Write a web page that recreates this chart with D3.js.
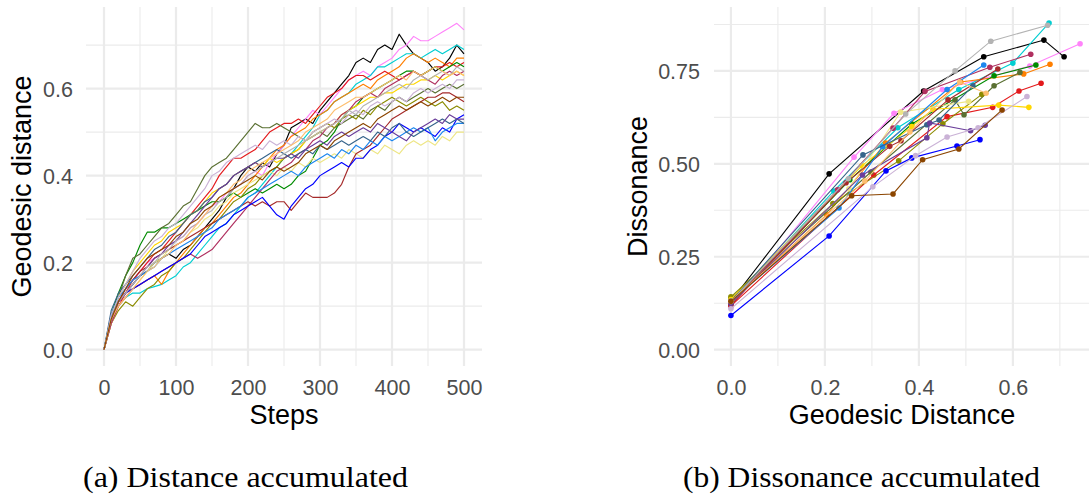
<!DOCTYPE html>
<html>
<head>
<meta charset="utf-8">
<script src="https://cdn.jsdelivr.net/npm/d3@7"></script>
<style>
  html, body { margin: 0; padding: 0; background: #ffffff; }
  svg { display: block; }
</style>
</head>
<body>
<svg id="fig" width="1092" height="497"></svg>
<script>
// ---------- shared series colours (one per walk) ----------
const seriesColors = [
  "#000000", "#FF83FA", "#00CED1", "#FF7F00", "#E31A1C",
  "#008B00", "#5A7032", "#8B8B00", "#FFD700", "#EEE685",
  "#A52A2A", "#B03060", "#0000FF", "#1C86EE", "#36648B",
  "#6A3D9A", "#CAB2D6", "#B3B3B3", "#FDBF6F", "#8B4500"
];

// ---------- panel (a): geodesic distance vs. steps ----------
const steps = [0, 10, 20, 30, 40, 50, 60, 70, 80, 90, 100, 110, 120, 130, 140, 150,
  160, 170, 180, 190, 200, 210, 220, 230, 240, 250, 260, 270, 280, 290, 300,
  310, 320, 330, 340, 350, 360, 370, 380, 390, 400, 410, 420, 430, 440, 450,
  460, 470, 480, 490, 500];

const distBlack = [0, .08, .11, .13, .15, .17, .18, .20, .21, .22, .21, .23, .24, .26, .28, .30,
  .32, .35, .37, .40, .42, .41, .43, .42, .45, .47, .51, .52, .53, .52, .55,
  .57, .59, .61, .63, .66, .67, .66, .69, .70, .69, .725, .70, .68, .67, .66,
  .64, .65, .67, .70, .68];
const distOrchid = [0, .07, .11, .14, .16, .18, .20, .21, .22, .24, .25, .26, .28, .29, .31, .33,
  .34, .36, .37, .38, .40, .41, .40, .43, .45, .47, .49, .51, .53, .55, .54,
  .56, .58, .60, .62, .63, .64, .63, .65, .66, .67, .69, .70, .72, .71, .71,
  .72, .73, .74, .75, .735];
const distCyan = [0, .07, .10, .12, .13, .13, .14, .145, .15, .16, .17, .19, .20, .22, .24, .26,
  .28, .29, .31, .33, .35, .36, .38, .40, .42, .44, .45, .47, .49, .51, .54,
  .55, .57, .58, .59, .61, .62, .63, .65, .65, .66, .67, .68, .68, .67, .68,
  .69, .68, .69, .70, .69];
const distOrange = [0, .07, .11, .13, .14, .15, .16, .17, .15, .18, .20, .22, .24, .26, .28, .29,
  .31, .33, .35, .36, .38, .40, .42, .44, .46, .47, .49, .50, .51, .53, .54,
  .55, .57, .58, .59, .60, .61, .60, .62, .63, .64, .65, .67, .68, .67, .66,
  .67, .66, .65, .67, .67];
const distRed = [0, .06, .10, .13, .16, .18, .20, .22, .23, .25, .27, .29, .31, .33, .35, .37,
  .40, .42, .44, .44, .45, .46, .48, .50, .51, .52, .52, .53, .52, .54, .56,
  .58, .59, .60, .62, .63, .63, .62, .63, .64, .63, .62, .63, .64, .63, .64,
  .65, .65, .66, .65, .66];
const distGreen = [0, .08, .13, .17, .20, .24, .27, .27, .28, .28, .29, .30, .31, .32, .33, .34,
  .34, .35, .36, .35, .36, .37, .36, .37, .38, .37, .38, .40, .41, .44, .47,
  .48, .50, .53, .55, .56, .58, .59, .60, .61, .62, .63, .64, .64, .63, .64,
  .65, .64, .65, .66, .65];
const distOliveDrab = [0, .07, .12, .17, .21, .22, .24, .26, .28, .29, .31, .33, .34, .37, .40, .42,
  .43, .44, .46, .48, .50, .52, .51, .51, .52, .51, .50, .49, .48, .49, .50,
  .49, .51, .52, .53, .54, .53, .55, .56, .55, .57, .58, .57, .58, .59, .60,
  .59, .60, .61, .60, .61];
const distOlive = [0, .06, .09, .11, .10, .12, .14, .15, .17, .18, .20, .21, .23, .25, .27, .29,
  .30, .32, .34, .35, .37, .38, .40, .41, .42, .44, .45, .46, .48, .50, .51,
  .52, .51, .53, .54, .53, .55, .54, .56, .57, .58, .57, .56, .57, .58, .57,
  .56, .57, .55, .56, .55];
const distGold = [0, .07, .12, .15, .18, .20, .22, .24, .25, .27, .28, .29, .31, .32, .34, .36,
  .37, .38, .40, .41, .42, .43, .42, .44, .43, .44, .45, .46, .48, .49, .50,
  .51, .52, .54, .55, .56, .57, .58, .58, .59, .59, .60, .61, .61, .62, .62,
  .63, .62, .63, .64, .63];
const distKhaki = [0, .06, .10, .12, .14, .16, .18, .20, .21, .23, .24, .25, .27, .28, .30, .31,
  .33, .34, .36, .37, .38, .39, .40, .41, .40, .42, .41, .43, .42, .44, .43,
  .44, .45, .44, .46, .45, .44, .46, .45, .47, .46, .45, .47, .48, .47, .48,
  .47, .49, .48, .50, .50];
const distBrown = [0, .07, .11, .14, .16, .18, .19, .21, .22, .23, .24, .25, .26, .27, .28, .29,
  .30, .31, .32, .33, .34, .33, .34, .33, .34, .34, .32, .34, .36, .35, .35,
  .35, .36, .38, .42, .45, .46, .47, .49, .51, .53, .54, .55, .56, .57, .58,
  .58, .59, .59, .58, .57];
const distMaroon = [0, .06, .10, .12, .14, .15, .16, .17, .18, .19, .20, .21, .22, .21, .22, .23,
  .25, .27, .29, .31, .33, .35, .37, .39, .41, .42, .43, .45, .46, .48, .49,
  .51, .52, .54, .55, .57, .58, .59, .58, .60, .61, .62, .63, .64, .63, .62,
  .61, .63, .64, .63, .64];
const distBlue = [0, .07, .11, .13, .14, .15, .16, .17, .18, .19, .20, .21, .22, .24, .26, .27,
  .28, .29, .31, .32, .33, .34, .35, .33, .31, .30, .33, .35, .37, .38, .40,
  .41, .42, .43, .42, .44, .44, .46, .47, .49, .50, .52, .51, .50, .51, .50,
  .49, .51, .50, .53, .54];
const distDodger = [0, .08, .12, .14, .16, .17, .18, .19, .21, .22, .23, .24, .25, .26, .27, .28,
  .30, .31, .32, .33, .35, .36, .37, .38, .39, .40, .41, .40, .42, .43, .44,
  .45, .44, .46, .45, .47, .46, .48, .47, .49, .48, .49, .50, .51, .50, .51,
  .48, .50, .51, .52, .52];
const distSteel = [0, .09, .13, .15, .17, .19, .21, .23, .24, .26, .27, .29, .31, .32, .34, .35,
  .37, .38, .40, .41, .42, .43, .44, .45, .46, .45, .44, .45, .46, .45, .47,
  .46, .47, .48, .47, .48, .49, .48, .50, .49, .51, .52, .50, .49, .50, .51,
  .52, .53, .52, .53, .52];
const distPurple = [0, .07, .11, .13, .15, .17, .19, .21, .22, .24, .25, .27, .29, .31, .33, .35,
  .37, .38, .40, .41, .42, .43, .42, .43, .44, .44, .45, .44, .46, .47, .48,
  .47, .49, .50, .49, .50, .51, .50, .52, .51, .50, .49, .48, .50, .51, .52,
  .53, .52, .54, .53, .53];
const distLavender = [0, .08, .12, .15, .18, .21, .23, .25, .26, .28, .29, .31, .33, .35, .37, .40,
  .41, .43, .44, .45, .46, .47, .46, .48, .47, .48, .47, .49, .48, .50, .51,
  .52, .53, .52, .54, .55, .54, .56, .57, .56, .57, .58, .57, .59, .60, .59,
  .60, .61, .60, .62, .62];
const distGray = [0, .07, .11, .13, .15, .17, .19, .20, .22, .23, .25, .26, .28, .29, .31, .32,
  .34, .35, .37, .38, .40, .41, .42, .43, .44, .45, .46, .47, .48, .49, .50,
  .51, .52, .53, .55, .54, .56, .57, .58, .59, .60, .61, .60, .62, .63, .62,
  .63, .64, .63, .65, .64];
const distSandy = [0, .07, .10, .12, .14, .16, .18, .19, .21, .22, .24, .25, .27, .29, .31, .33,
  .35, .36, .38, .39, .41, .42, .43, .44, .45, .46, .47, .48, .50, .51, .52,
  .53, .55, .56, .57, .58, .58, .59, .60, .61, .62, .63, .62, .64, .63, .64,
  .65, .64, .63, .64, .63];
const distSaddle = [0, .07, .11, .14, .17, .19, .21, .22, .23, .24, .26, .27, .29, .30, .32, .33,
  .35, .36, .37, .38, .39, .40, .39, .41, .42, .41, .42, .43, .45, .46, .47,
  .46, .48, .49, .50, .51, .52, .51, .53, .54, .55, .56, .55, .56, .57, .56,
  .57, .58, .57, .58, .58];

const distanceSeries = [
  distBlack, distOrchid, distCyan, distOrange, distRed,
  distGreen, distOliveDrab, distOlive, distGold, distKhaki,
  distBrown, distMaroon, distBlue, distDodger, distSteel,
  distPurple, distLavender, distGray, distSandy, distSaddle
];

// ---------- panel (b): dissonance vs. geodesic distance, [distance, dissonance] ----------
const dissBlack = [[0, .13], [.209, .473], [.41, .696], [.538, .788], [.666, .833], [.709, .788]];
const dissOrchid = [[0, .115], [.262, .518], [.347, .636], [.45, .70], [.636, .763], [.743, .823]];
const dissCyan = [[0, .125], [.219, .427], [.355, .597], [.485, .70], [.60, .771], [.677, .879]];
const dissOrange = [[0, .13], [.204, .363], [.329, .556], [.489, .72], [.623, .742], [.679, .768]];
const dissRed = [[0, .118], [.304, .47], [.46, .627], [.557, .652], [.613, .696], [.66, .717]];
const dissGreen = [[0, .125], [.253, .457], [.385, .607], [.56, .737], [.649, .766]];
const dissOliveDrab = [[0, .138], [.298, .478], [.477, .672], [.496, .632], [.56, .71], [.615, .746]];
const dissOlive = [[0, .142], [.217, .393], [.357, .508], [.451, .608], [.534, .687]];
const dissGold = [[0, .135], [.279, .495], [.385, .60], [.43, .647], [.57, .658], [.634, .652]];
const dissKhaki = [[0, .13], [.251, .433], [.361, .639], [.506, .668]];
const dissBrown = [[0, .12], [.245, .449], [.338, .547], [.362, .562], [.462, .672], [.568, .755]];
const dissMaroon = [[0, .125], [.227, .43], [.345, .596], [.413, .695], [.551, .76], [.638, .795]];
const dissBlue = [[0, .092], [.209, .306], [.330, .481], [.385, .516], [.481, .548], [.530, .565]];
const dissDodger = [[0, .13], [.230, .381], [.323, .546], [.46, .70], [.538, .766]];
const dissSteel = [[0, .13], [.281, .524], [.417, .605], [.443, .618], [.515, .71]];
const dissPurple = [[0, .125], [.28, .47], [.417, .57], [.423, .61], [.51, .589], [.541, .604]];
const dissLavender = [[0, .11], [.302, .438], [.393, .522], [.46, .572], [.526, .597], [.63, .681]];
const dissGray = [[0, .13], [.25, .46], [.372, .634], [.477, .75], [.553, .83], [.674, .873]];
const dissSandy = [[0, .13], [.285, .454], [.381, .586], [.487, .72], [.543, .69]];
const dissSaddle = [[0, .13], [.257, .414], [.345, .419], [.408, .511], [.485, .540], [.577, .645]];

const dissonanceSeries = [
  dissBlack, dissOrchid, dissCyan, dissOrange, dissRed,
  dissGreen, dissOliveDrab, dissOlive, dissGold, dissKhaki,
  dissBrown, dissMaroon, dissBlue, dissDodger, dissSteel,
  dissPurple, dissLavender, dissGray, dissSandy, dissSaddle
];

// ---------- tick labels ----------
const stepTicks = [0, 100, 200, 300, 400, 500];
const distanceTicks = [0, 0.2, 0.4, 0.6];
const geoTicks = [0, 0.2, 0.4, 0.6];
const dissTicks = [0, 0.25, 0.5, 0.75];

// ---------- drawing ----------
const svg = d3.select("#fig");
const GRID = "#EBEBEB";
const TICK_FONT = "'Liberation Sans', Arial, Helvetica, sans-serif";

function midpoints(ticks, step) {
  const out = ticks.map(t => t + step / 2);
  return out;
}

function drawGrid(g, x, y, xMajor, xMinor, yMajor, yMinor) {
  const [x0, x1] = x.range();
  const [y0, y1] = y.range();
  g.append("g").selectAll("line").data(yMinor).join("line")
    .attr("x1", x0).attr("x2", x1)
    .attr("y1", d => y(d)).attr("y2", d => y(d))
    .attr("stroke", GRID).attr("stroke-width", 1.1);
  g.append("g").selectAll("line").data(xMinor).join("line")
    .attr("y1", y0).attr("y2", y1)
    .attr("x1", d => x(d)).attr("x2", d => x(d))
    .attr("stroke", GRID).attr("stroke-width", 1.1);
  g.append("g").selectAll("line").data(yMajor).join("line")
    .attr("x1", x0).attr("x2", x1)
    .attr("y1", d => y(d)).attr("y2", d => y(d))
    .attr("stroke", GRID).attr("stroke-width", 2.2);
  g.append("g").selectAll("line").data(xMajor).join("line")
    .attr("y1", y0).attr("y2", y1)
    .attr("x1", d => x(d)).attr("x2", d => x(d))
    .attr("stroke", GRID).attr("stroke-width", 2.2);
}

function drawAxes(x, y, xTicks, yTicks, xFmt, yFmt, yLabelX) {
  const xAxis = d3.axisBottom(x).tickValues(xTicks).tickFormat(xFmt).tickSize(0).tickPadding(0);
  const gx = svg.append("g").attr("transform", "translate(0,395)").call(xAxis);
  gx.select(".domain").remove();
  gx.selectAll("text")
    .attr("dy", null).attr("y", 0)
    .attr("font-family", TICK_FONT).attr("font-size", 21.5).attr("fill", "#4D4D4D");

  const yAxis = d3.axisLeft(y).tickValues(yTicks).tickFormat(yFmt).tickSize(0).tickPadding(0);
  const gy = svg.append("g").attr("transform", `translate(${yLabelX},0)`).call(yAxis);
  gy.select(".domain").remove();
  gy.selectAll("text")
    .attr("dy", "0.36em").attr("x", 0)
    .attr("font-family", TICK_FONT).attr("font-size", 21.5).attr("fill", "#4D4D4D");
}

function axisTitle(text, x, y, rotate) {
  svg.append("text")
    .attr("transform", `translate(${x},${y})` + (rotate ? " rotate(-90)" : ""))
    .attr("text-anchor", "middle")
    .attr("font-family", TICK_FONT).attr("font-size", 27).attr("fill", "#000")
    .text(text);
}

// panel (a)
const xA = d3.scaleLinear().domain([-25, 525]).range([86, 482]);
const yA = d3.scaleLinear().domain([-0.0375, 0.7875]).range([366, 7]);
const gA = svg.append("g");
drawGrid(gA, xA, yA, stepTicks, midpoints(stepTicks, 100).slice(0, 5),
  distanceTicks, midpoints(distanceTicks, 0.2));

const lineA = d3.line().x((d, i) => xA(steps[i])).y(d => yA(d));
gA.append("g").selectAll("path").data(distanceSeries).join("path")
  .attr("d", d => lineA(d))
  .attr("fill", "none")
  .attr("stroke", (d, i) => seriesColors[i])
  .attr("stroke-width", 1.15)
  .attr("stroke-linejoin", "round");

drawAxes(xA, yA, stepTicks, distanceTicks, d3.format("d"), d3.format(".1f"), 73);
axisTitle("Steps", 284, 424, false);
axisTitle("Geodesic distance", 31, 186.5, true);

// panel (b)
const xB = d3.scaleLinear().domain([-0.036, 0.762]).range([714, 1089]);
const yB = d3.scaleLinear().domain([-0.044, 0.922]).range([366, 7]);
const gB = svg.append("g");
drawGrid(gB, xB, yB, geoTicks, midpoints(geoTicks, 0.2),
  dissTicks, midpoints(dissTicks, 0.25));

const lineB = d3.line().x(d => xB(d[0])).y(d => yB(d[1]));
const seriesB = gB.append("g").selectAll("g").data(dissonanceSeries).join("g");
seriesB.append("path")
  .attr("d", d => lineB(d))
  .attr("fill", "none")
  .attr("stroke", (d, i) => seriesColors[i])
  .attr("stroke-width", 1.1);
seriesB.each(function (d, i) {
  d3.select(this).selectAll("circle").data(d).join("circle")
    .attr("cx", p => xB(p[0])).attr("cy", p => yB(p[1]))
    .attr("r", 2.8)
    .attr("fill", seriesColors[i]);
});

drawAxes(xB, yB, geoTicks, dissTicks, d3.format(".1f"), d3.format(".2f"), 700);
axisTitle("Geodesic Distance", 902, 424, false);
axisTitle("Dissonance", 647, 186.5, true);

// sub-figure captions
const CAPTION_FONT = "'Liberation Serif', 'Times New Roman', serif";
svg.append("text")
  .attr("x", 245.5).attr("y", 487)
  .attr("text-anchor", "middle")
  .attr("font-family", CAPTION_FONT).attr("font-size", 28.5)
  .attr("textLength", 325).attr("lengthAdjust", "spacingAndGlyphs")
  .text("(a) Distance accumulated");
svg.append("text")
  .attr("x", 861.5).attr("y", 487)
  .attr("text-anchor", "middle")
  .attr("font-family", CAPTION_FONT).attr("font-size", 28.5)
  .attr("textLength", 357).attr("lengthAdjust", "spacingAndGlyphs")
  .text("(b) Dissonance accumulated");
</script>
</body>
</html>
